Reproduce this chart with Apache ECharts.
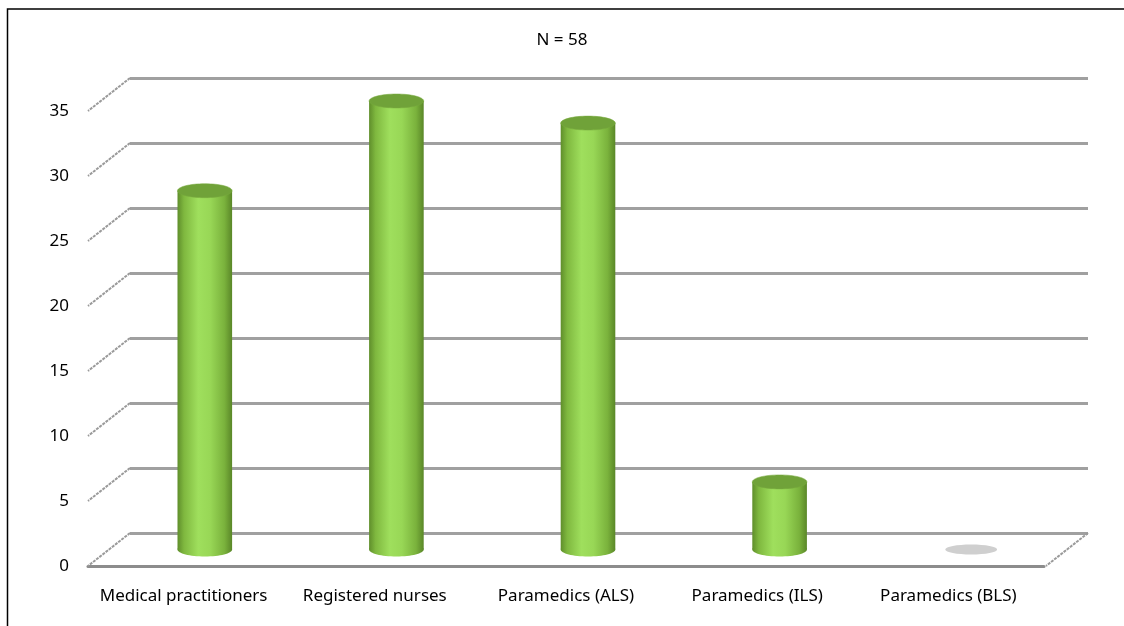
<!DOCTYPE html>
<html>
<head>
<meta charset="utf-8">
<script src="https://cdn.jsdelivr.net/npm/echarts@6/dist/echarts.min.js"></script>
<style>html,body{margin:0;padding:0;background:#fff}#c{width:1124px;height:626px}</style>
</head>
<body>
<div id="c"></div>
<script>
const titleText = 'N = 58';
const categories = ['Medical practitioners', 'Registered nurses', 'Paramedics (ALS)', 'Paramedics (ILS)', 'Paramedics (BLS)'];
const values = [27.6, 34.5, 32.8, 5.2, 0];
const yTicks = [0, 5, 10, 15, 20, 25, 30, 35];

const DEPTH_X = -42, DEPTH_Y = 33; // back wall -> front edge
const FONT = '"Noto Sans", "Open Sans", sans-serif';

const chart = echarts.init(document.getElementById('c'), null, {renderer: 'canvas'});

const bodyGrad = new echarts.graphic.LinearGradient(0, 0, 1, 0, [
  {offset: 0, color: '#5f8e2b'},
  {offset: 0.12, color: '#7fb83f'},
  {offset: 0.38, color: '#9fdf5d'},
  {offset: 0.6, color: '#98d756'},
  {offset: 0.86, color: '#7ab23c'},
  {offset: 1, color: '#5a8728'}
]);

function renderBar(params, api) {
  const cat = api.value(0), val = api.value(1);
  const top = api.coord([cat, val]);
  const bot = api.coord([cat, 0]);
  const bw = api.size([1, 0])[0] * 0.285;
  const rx = bw / 2, ry = 7;
  const cx = top[0] + DEPTH_X / 2;
  const ty = top[1] + DEPTH_Y / 2;
  const by = bot[1] + DEPTH_Y / 2;
  if (val <= 0) {
    return {type: 'ellipse', shape: {cx: cx, cy: by, rx: rx * 0.95, ry: 5}, style: {fill: '#cfcfcf'}};
  }
  return {
    type: 'group',
    children: [
      {type: 'ellipse', shape: {cx: cx, cy: by, rx: rx, ry: ry}, style: {fill: bodyGrad}},
      {type: 'rect', shape: {x: cx - rx, y: ty, width: bw, height: by - ty}, style: {fill: bodyGrad}},
      {type: 'ellipse', shape: {cx: cx, cy: ty, rx: rx, ry: ry}, style: {fill: '#70a239', stroke: '#78ab3e', lineWidth: 0.5}}
    ]
  };
}

function renderSide(params, api) {
  const v = api.value(1);
  const p = api.coord([0, v]);
  const cs = params.coordSys;
  const lineStyle = {stroke: '#9a9a9a', lineWidth: 2, lineDash: [3, 1]};
  const children = [
    {type: 'line', shape: {x1: cs.x, y1: p[1], x2: cs.x + DEPTH_X, y2: p[1] + DEPTH_Y}, style: lineStyle}
  ];
  if (v === 0) {
    children.push({type: 'line', shape: {x1: cs.x + cs.width, y1: p[1], x2: cs.x + cs.width + DEPTH_X, y2: p[1] + DEPTH_Y}, style: lineStyle});
  }
  return {type: 'group', children: children};
}

chart.setOption({
  animation: false,
  backgroundColor: '#ffffff',
  title: {
    text: titleText, left: 'center', top: 27,
    textStyle: {fontFamily: FONT, fontSize: 17, fontWeight: 'normal', color: '#000'}
  },
  graphic: [
    {type: 'rect', shape: {x: 7.5, y: 9, width: 1130, height: 700}, style: {fill: 'none', stroke: '#000', lineWidth: 1.5}, silent: true, z: 100}
  ],
  grid: [
    {left: 130, right: 36, top: 78, bottom: 93},
    {left: 88, right: 80, top: 111, bottom: 60}
  ],
  xAxis: [
    {gridIndex: 0, type: 'category', data: categories, axisLine: {show: false}, axisTick: {show: false}, axisLabel: {show: false}},
    {gridIndex: 1, type: 'category', data: categories,
     axisLine: {show: true, lineStyle: {color: '#8c8c8c', width: 3}}, axisTick: {show: false},
     axisLabel: {interval: 0, margin: 22, fontFamily: FONT, fontSize: 17, color: '#000'}}
  ],
  yAxis: [
    {gridIndex: 0, type: 'value', min: 0, max: 35, interval: 5,
     axisLine: {show: false}, axisTick: {show: false}, axisLabel: {show: false},
     splitLine: {show: true, lineStyle: {color: '#a0a0a0', width: 3}}},
    {gridIndex: 1, type: 'value', min: 0, max: 35, interval: 5,
     axisLine: {show: false}, axisTick: {show: false},
     axisLabel: {margin: 19, fontFamily: FONT, fontSize: 17, color: '#000'},
     splitLine: {show: false}}
  ],
  series: [
    {type: 'custom', xAxisIndex: 0, yAxisIndex: 0, renderItem: renderSide,
     data: yTicks.map(v => [0, v]), z: 1, silent: true},
    {type: 'custom', xAxisIndex: 0, yAxisIndex: 0, renderItem: renderBar,
     data: values.map((v, i) => [i, v]), z: 5, silent: true}
  ]
});
</script>
</body>
</html>
